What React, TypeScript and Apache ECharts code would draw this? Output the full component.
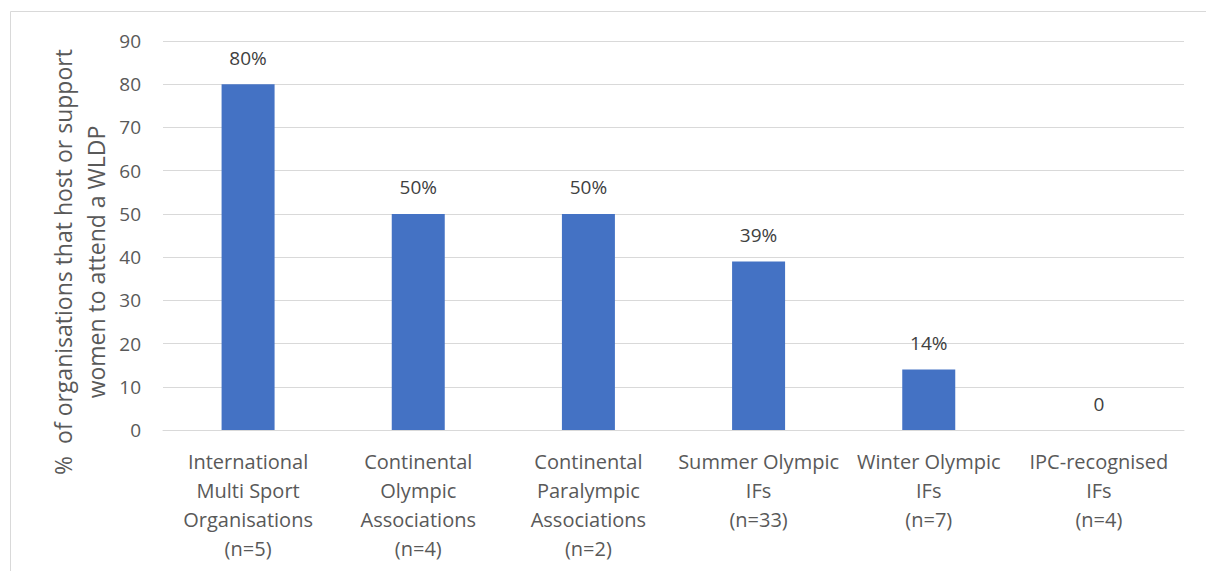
import React, { useEffect, useRef } from "react";
import * as echarts from "echarts";

const categories = [
  "International\nMulti Sport\nOrganisations\n(n=5)",
  "Continental\nOlympic\nAssociations\n(n=4)",
  "Continental\nParalympic\nAssociations\n(n=2)",
  "Summer Olympic\nIFs\n(n=33)",
  "Winter Olympic\nIFs\n(n=7)",
  "IPC-recognised\nIFs\n(n=4)",
];
const values = [80, 50, 50, 39, 14, 0];
const yAxisName = "%  of organisations that host or support\nwomen to attend a WLDP";
const FONT = "'Open Sans', sans-serif";

export default function App() {
  const ref = useRef<HTMLDivElement>(null);
  useEffect(() => {
    const chart = echarts.init(ref.current!, null, { renderer: "svg" });
    chart.setOption({
      animation: false,
      backgroundColor: "#ffffff",
      textStyle: { fontFamily: FONT },
      graphic: [
        {
          type: "rect",
          shape: { x: 10.5, y: 11.5, width: 1250, height: 600 },
          style: { fill: "none", stroke: "#d9d9d9", lineWidth: 1 },
          silent: true,
        },
        {
          type: "text",
          x: 79,
          y: 262,
          rotation: Math.PI / 2,
          style: {
            text: yAxisName,
            fill: "#595959",
            fontSize: 23,
            lineHeight: 33,
            fontFamily: FONT,
            align: "center",
            verticalAlign: "middle",
          },
          silent: true,
        },
      ],
      grid: { left: 163, right: 22, top: 41, bottom: 141 },
      xAxis: {
        type: "category",
        data: categories,
        axisLine: { show: true, lineStyle: { color: "#d9d9d9", width: 1 } },
        axisTick: { show: false },
        axisLabel: {
          interval: 0,
          color: "#595959",
          fontSize: 20,
          lineHeight: 29,
          margin: 17,
          fontFamily: FONT,
        },
      },
      yAxis: {
        type: "value",
        min: 0,
        max: 90,
        interval: 10,
        axisLine: { show: false },
        axisTick: { show: false },
        splitLine: { lineStyle: { color: "#d9d9d9", width: 1 } },
        axisLabel: { color: "#595959", fontSize: 19, margin: 22, fontFamily: FONT },
      },
      series: [
        {
          type: "bar",
          data: values,
          barWidth: 53,
          itemStyle: { color: "#4472C4" },
          label: {
            show: true,
            position: "top",
            distance: 17,
            color: "#404040",
            fontSize: 19,
            fontFamily: FONT,
            formatter: (p: any) => (p.value === 0 ? "0" : p.value + "%"),
          },
        },
      ],
    });
    return () => chart.dispose();
  }, []);
  return (
    <div
      ref={ref}
      style={{ position: "fixed", left: 0, top: 0, width: 1206, height: 571 }}
    />
  );
}
